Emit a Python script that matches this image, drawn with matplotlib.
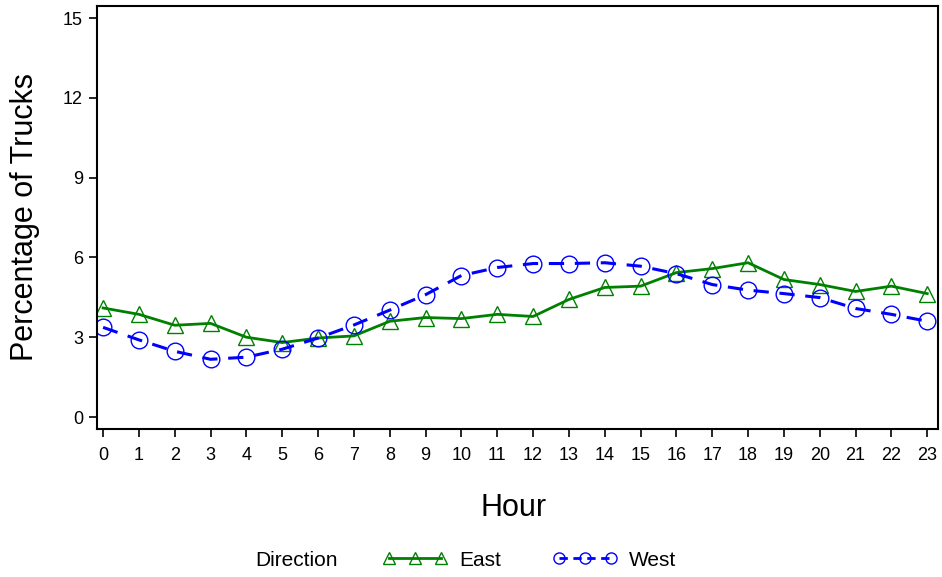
import numpy as np
import matplotlib
matplotlib.use("Agg")
from matplotlib import pyplot as plt
from matplotlib.lines import Line2D

plt.rcParams['font.family'] = ['Liberation Sans', 'DejaVu Sans']

hours = list(range(24))
east = [4.1, 3.86, 3.45, 3.52, 3.0, 2.8, 2.97, 3.05, 3.6, 3.74, 3.7, 3.86,
        3.78, 4.42, 4.87, 4.92, 5.43, 5.58, 5.8, 5.17, 4.98, 4.72, 4.92, 4.64]
west = [3.37, 2.9, 2.47, 2.17, 2.25, 2.55, 2.97, 3.46, 4.02, 4.6, 5.32, 5.62,
        5.77, 5.77, 5.8, 5.67, 5.39, 4.98, 4.77, 4.64, 4.49, 4.08, 3.86, 3.6]
yticks = [0, 3, 6, 9, 12, 15]

green = '#008000'
blue = '#0000ff'

fig = plt.figure(figsize=(9.42, 5.77), dpi=100)
ax = fig.add_axes([97/942, 1 - 429/577, (938-97)/942, (429-5.5)/577])

ax.plot(hours, east, color=green, lw=2.0, marker='^', ms=11,
        mfc='none', mec=green, mew=1.0)
ax.plot(hours, west, color=blue, lw=2.2, ls=(0, (5, 3.5)), marker='o', ms=12,
        mfc='none', mec=blue, mew=1.0)

ax.set_xlim(-0.17, 23.3)
ax.set_ylim(-0.45, 15.47)
ax.set_xticks(hours)
ax.set_yticks(yticks)
ax.tick_params(direction='out', length=6, width=1.2, labelsize=13)
ax.tick_params(axis='x', pad=7)
ax.tick_params(axis='y', pad=4)
for s in ax.spines.values():
    s.set_linewidth(1.5)

# axis titles placed in figure coords
fig.text(514/942, 1 - 508/577, 'Hour', fontsize=22, ha='center', va='center')
fig.text(25/942, 1 - 217/577, 'Percentage of Trucks', fontsize=22,
         rotation=90, ha='center', va='center')

# legend
fig.text(255/942, 1 - 560/577, 'Direction', fontsize=15, va='center', ha='left')
h_east = Line2D([], [], color=green, lw=2.0, marker='^', ms=8, mfc='none', mec=green)
h_west = Line2D([], [], color=blue, lw=2.0, ls=(0, (3, 2)), marker='o', ms=8, mfc='none', mec=blue)
for h, lab, x0 in [(h_east, 'East', 383), (h_west, 'West', 553)]:
    fig.legend([h], [lab], loc='center left', bbox_to_anchor=(x0/942, 1 - 560/577),
               frameon=False, numpoints=3, handlelength=3.1, fontsize=15,
               handletextpad=0.55, borderaxespad=0, borderpad=0)

fig.savefig('out.png', dpi=100)
